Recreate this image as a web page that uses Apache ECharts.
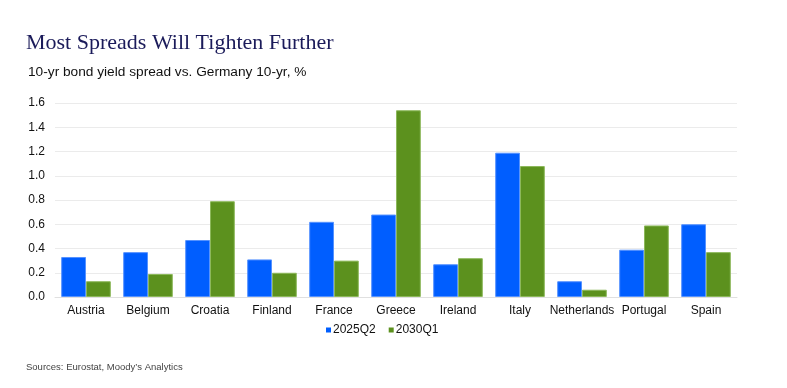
<!DOCTYPE html>
<html><head><meta charset="utf-8">
<script src="https://cdn.jsdelivr.net/npm/echarts@6/dist/echarts.min.js"></script>
<style>html,body{margin:0;padding:0;background:#fff}#c{width:787px;height:388px}</style>
</head><body><div id="c"></div>
<script>
const categories = ['Austria','Belgium','Croatia','Finland','France','Greece','Ireland','Italy','Netherlands','Portugal','Spain'];
const s2025Q2 = [0.33,0.37,0.47,0.31,0.62,0.68,0.27,1.19,0.13,0.39,0.60];
const s2030Q1 = [0.13,0.19,0.79,0.20,0.30,1.54,0.32,1.08,0.06,0.59,0.37];
const yTicks = {min:0,max:1.6,interval:0.2};
const chart = echarts.init(document.getElementById('c'));
chart.setOption({
  animation:false,
  title:[
    {text:'Most Spreads Will Tighten Further',left:26,top:32,padding:0,textStyle:{fontFamily:'Liberation Serif',fontWeight:'normal',fontSize:22,color:'#1b1b5a'}},
    {text:'10-yr bond yield spread vs. Germany 10-yr, %',left:28,top:65,padding:0,textStyle:{fontFamily:'Liberation Sans',fontWeight:'normal',fontSize:13.7,color:'#111'}},
    {text:'Sources: Eurostat, Moody\u2019s Analytics',left:26,top:362,padding:0,textStyle:{fontFamily:'Liberation Sans',fontWeight:'normal',fontSize:9.5,color:'#444'}}
  ],
  legend:{data:['2025Q2','2030Q1'],top:324,left:326,padding:0,itemWidth:5,itemHeight:5,itemGap:13,icon:'rect',
    itemStyle:{borderWidth:0},
    textStyle:{fontFamily:'Liberation Sans',fontSize:12,color:'#111',padding:[0,0,0,-3]}},
  grid:{left:55,right:50,top:103,bottom:91,containLabel:false},
  xAxis:{type:'category',data:categories,axisTick:{show:false},
    axisLine:{lineStyle:{color:'#e0e0e0'}},
    axisLabel:{fontFamily:'Liberation Sans',fontSize:12,color:'#111',margin:8,interval:0}},
  yAxis:{type:'value',min:yTicks.min,max:yTicks.max,interval:yTicks.interval,
    axisLabel:{fontFamily:'Liberation Sans',fontSize:12,color:'#111',formatter:v=>v.toFixed(1),margin:10},
    splitLine:{lineStyle:{color:'#ebebeb'}},axisLine:{show:false},axisTick:{show:false}},
  series:[
    {name:'2025Q2',type:'bar',data:s2025Q2,barGap:0,barCategoryGap:'20%',itemStyle:{color:'#005eff',borderColor:'#5592ff',borderWidth:1}},
    {name:'2030Q1',type:'bar',data:s2030Q1,itemStyle:{color:'#5c911e',borderColor:'#8cb85a',borderWidth:1}}
  ]
});
</script></body></html>
